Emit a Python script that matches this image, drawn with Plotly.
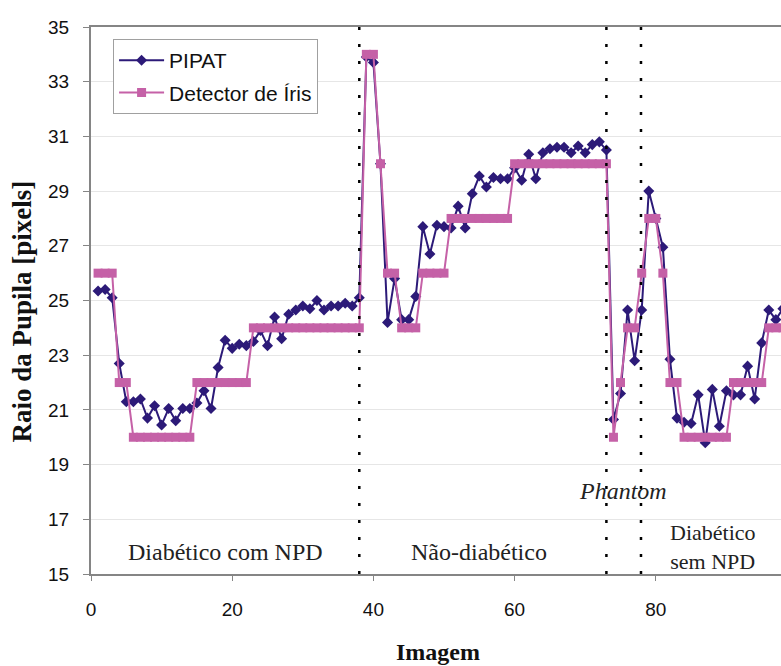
import plotly.graph_objects as go

# ---- data -------------------------------------------------------------
imagem = list(range(1, 99))

pipat = [25.35, 25.4, 25.1, 22.7, 21.3, 21.3, 21.4, 20.7, 21.15, 20.45,
         21.05, 20.6, 21.05, 21.05, 21.25, 21.7, 21.05, 22.55, 23.55, 23.25,
         23.4, 23.35, 23.5, 23.9, 23.35, 24.4, 23.6, 24.5, 24.65, 24.8,
         24.7, 25.0, 24.65, 24.8, 24.8, 24.9, 24.8, 25.1, 33.9, 33.7,
         30.0, 24.2, 25.8, 24.3, 24.3, 25.15, 27.7, 26.7, 27.75, 27.7,
         27.65, 28.45, 27.65, 28.9, 29.55, 29.15, 29.5, 29.45, 29.45, 29.85,
         29.4, 30.35, 29.45, 30.4, 30.55, 30.6, 30.6, 30.4, 30.65, 30.4,
         30.7, 30.8, 30.5, 20.65, 21.6, 24.65, 22.8, 24.65, 29.0, 28.0,
         26.95, 22.85, 20.7, 20.55, 20.5, 21.55, 19.8, 21.75, 20.4, 21.7,
         21.55, 21.55, 22.6, 21.4, 23.45, 24.65, 24.3, 24.7]

detector = [26, 26, 26, 22, 22, 20, 20, 20, 20, 20,
            20, 20, 20, 20, 22, 22, 22, 22, 22, 22,
            22, 22, 24, 24, 24, 24, 24, 24, 24, 24,
            24, 24, 24, 24, 24, 24, 24, 24, 34, 34,
            30, 26, 26, 24, 24, 24, 26, 26, 26, 26,
            28, 28, 28, 28, 28, 28, 28, 28, 28, 30,
            30, 30, 30, 30, 30, 30, 30, 30, 30, 30,
            30, 30, 30, 20, 22, 24, 24, 26, 28, 28,
            26, 22, 22, 20, 20, 20, 20, 20, 20, 20,
            22, 22, 22, 22, 22, 24, 24, 24]

separadores = [38, 73, 77.9]

grupos = ["Diabético com NPD", "Não-diabético", "<i>Phantom</i>", "Diabético<br>sem NPD"]
grupos_x = [19.1, 54.9, 75.35, 88.05]
grupos_y = [15.8, 15.8, 18.02, 16.0]
grupos_size = [24, 24, 24, 22]

y_ticks = [15, 17, 19, 21, 23, 25, 27, 29, 31, 33, 35]
x_ticks = [0, 20, 40, 60, 80]

# ---- figure -----------------------------------------------------------
NAVY = "#2C1A78"
PINK = "#C561A7"
SANS = "Liberation Sans, Arial, sans-serif"
SERIF = "Liberation Serif, Times New Roman, serif"

fig = go.Figure()
fig.add_trace(go.Scatter(
    x=imagem, y=pipat, name="PIPAT", mode="lines+markers", legendgroup="a",
    line=dict(color=NAVY, width=2),
    marker=dict(symbol="diamond", size=8.5, color=NAVY),
))
fig.add_trace(go.Scatter(
    x=imagem, y=detector, name="Detector de Íris", mode="lines+markers", legendgroup="b",
    line=dict(color=PINK, width=2),
    marker=dict(symbol="square", size=9, color=PINK),
))

for xv in separadores:
    fig.add_shape(type="line", xref="x", yref="paper", x0=xv, x1=xv, y0=0, y1=1,
                  line=dict(color="black", width=2.5, dash="3px,14px"))

for txt, gx, gy, gs in zip(grupos, grupos_x, grupos_y, grupos_size):
    fig.add_annotation(
        x=gx, y=gy, xref="x", yref="y", text=txt,
        showarrow=False, xanchor="center", yanchor="middle",
        font=dict(family=SERIF, size=gs, color="#222222"))

# axis titles
fig.add_annotation(x=0.503, y=-0.142, xref="paper", yref="paper", text="<b>Imagem</b>",
                   showarrow=False, xanchor="center", yanchor="middle",
                   font=dict(family=SERIF, size=24, color="#111111"))
fig.add_annotation(x=0, y=0.480, xref="paper", yref="paper", xshift=-69,
                   text="<b>Raio da Pupila [pixels]</b>", textangle=-90,
                   showarrow=False, xanchor="center", yanchor="middle",
                   font=dict(family=SERIF, size=27, color="#111111"))

fig.update_layout(
    width=781, height=666,
    margin=dict(l=91, r=0, t=27, b=92),
    paper_bgcolor="white", plot_bgcolor="white",
    showlegend=True,
    legend=dict(x=0.032, y=0.978, xanchor="left", yanchor="top",
                bgcolor="white", bordercolor="#A0A0A0", borderwidth=1,
                font=dict(family=SANS, size=21, color="#111111"),
                tracegroupgap=2, itemwidth=45),
    font=dict(family=SANS, color="#111111"),
)
fig.update_xaxes(range=[0, 97.73], tickvals=x_ticks, showgrid=False, zeroline=False,
                 showline=True, linecolor="#858585", linewidth=2, mirror=True,
                 ticks="outside", ticklen=5, tickcolor="#858585", tickwidth=1,
                 ticklabelstandoff=12,
                 tickfont=dict(family=SANS, size=19, color="#111111"))
fig.update_yaxes(range=[15, 35], tickvals=y_ticks, showgrid=True, gridcolor="#E6E6E6",
                 gridwidth=1, zeroline=False,
                 showline=True, linecolor="#858585", linewidth=2,
                 ticks="outside", ticklen=6, tickcolor="#858585", tickwidth=1,
                 ticklabelstandoff=10,
                 tickfont=dict(family=SANS, size=19, color="#111111"))

fig.write_html("out.html")
